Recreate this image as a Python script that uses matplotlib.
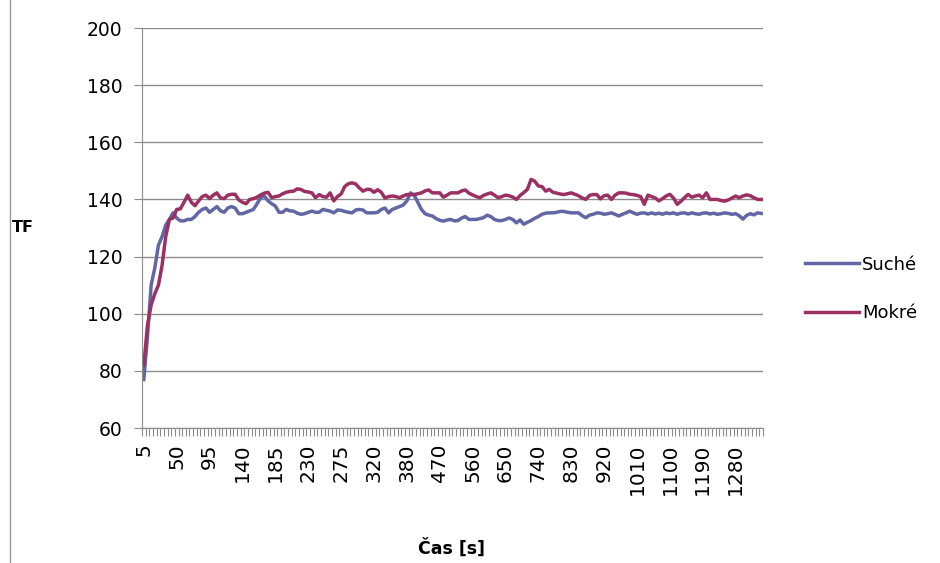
import matplotlib
matplotlib.use("Agg")
import matplotlib.pyplot as plt
from matplotlib.lines import Line2D
import numpy as np

# time categories [s]: 5 s step up to 350, then 10 s step
times = list(range(5, 355, 5)) + list(range(360, 1360, 10))

suche = [
    77, 92, 110, 116, 124, 127, 131, 133, 135.3, 133.5,
    132.5, 132.5, 133, 133, 134, 135.5, 136.5, 137, 135.5, 136.5,
    137.5, 136, 135.5, 137, 137.5, 137, 135, 135, 135.5, 136,
    136.5, 138.5, 140.6, 141.2, 139.5, 138.5, 137.7, 135.5, 135.5, 136.5,
    136, 135.9, 135.2, 134.8, 135, 135.5, 135.9, 135.5, 135.5, 136.5,
    136.2, 135.9, 135.3, 136.3, 136.2, 135.8, 135.5, 135.3, 136.3, 136.5,
    136.3, 135.3, 135.3, 135.3, 135.5, 136.5, 137, 135.3, 136.5, 137,
    137.5, 138, 139.5, 142.3, 141.5, 139, 136.5, 135, 134.5, 134.2,
    133.3, 132.7, 132.4, 132.8, 133, 132.5, 132.6, 133.5, 134, 133,
    133, 133, 133.3, 133.6, 134.5, 134, 133, 132.6, 132.6, 133,
    133.5, 133, 131.8, 132.8, 131.3, 132, 132.6, 133.4, 134, 134.8,
    135.2, 135.3, 135.3, 135.5, 135.8, 135.8, 135.5, 135.3, 135.3, 135.3,
    134.3, 133.6, 134.5, 134.8, 135.3, 135.2, 134.8, 135, 135.3, 134.8,
    134.2, 134.8, 135.3, 135.9, 135.3, 134.8, 135.2, 135.3, 134.9, 135.3,
    134.9, 135.2, 134.8, 135.3, 135, 135.3, 134.8, 135.2, 135.3, 134.9,
    135.3, 135, 134.8, 135.2, 135.3, 134.9, 135.2, 134.8, 135, 135.3,
    135.1, 134.8, 135, 134.3, 133.1, 134.4, 135, 134.6, 135.3, 135.1,
]

mokre = [
    82, 96, 103, 107, 110, 117, 127, 133, 133.5, 136.5,
    136.7, 139, 141.5, 139, 137.8, 139.5, 141, 141.5, 140.3, 141.5,
    142.3, 140.5, 140.3, 141.5, 141.8, 141.8, 139.8, 139, 138.5, 140,
    140.3, 140.8, 141.6, 142.2, 142.5, 140.6, 141, 141.2, 142, 142.5,
    142.8, 142.9, 143.7, 143.5, 142.8, 142.6, 142.3, 140.6, 141.7, 141,
    140.8, 142.3, 139.5, 141, 141.9, 144.5, 145.5, 145.8, 145.4, 144,
    142.9, 143.5, 143.5, 142.5, 143.4, 142.5, 140.5, 141, 141.2, 141,
    140.6, 141.2, 141.7, 141.7, 141.7, 142, 142.3, 143, 143.3, 142.3,
    142.3, 142.3, 140.8, 141.5, 142.3, 142.3, 142.3, 143, 143.3, 142.2,
    141.6, 141, 140.6, 141.4, 141.9, 142.3, 141.5, 140.6, 141, 141.5,
    141.3, 140.8, 140, 141.4, 142.4, 143.5, 147, 146.4, 144.7, 144.5,
    142.9, 143.5, 142.5, 142.2, 141.9, 141.7, 142, 142.3, 141.8, 141.3,
    140.5, 140, 141.4, 141.7, 141.7, 140.2, 141.3, 141.5, 140, 141.5,
    142.3, 142.3, 142.2, 141.8, 141.7, 141.4, 141, 138.3, 141.5, 141,
    140.5, 139.5, 140.3, 141.2, 141.8, 140.5, 138.3, 139.3, 140.6, 141.75,
    140.8, 141.2, 141.5, 140.6, 142.3, 140, 140, 140, 139.6, 139.4,
    139.8, 140.5, 141.2, 140.6, 141.2, 141.6, 141.3, 140.6, 140, 140,
]

series_names = ["Suché", "Mokré"]
y_ticks = [60, 80, 100, 120, 140, 160, 180, 200]

W, H = 940, 563
fig = plt.figure(figsize=(W / 100, H / 100), dpi=100)
ax = fig.add_axes([142 / W, 1 - 428 / H, (763 - 142) / W, (428 - 28) / H])

x = np.arange(len(times))
ax.plot(x, suche, color="#6266A4", lw=2.5, label=series_names[0], solid_joinstyle="round")
ax.plot(x, mokre, color="#9B3063", lw=2.5, label=series_names[1], solid_joinstyle="round")

ax.set_xlim(-0.5, len(times) - 0.5)
ax.set_ylim(60, 200)
ax.set_yticks(y_ticks)
ax.yaxis.grid(True, color="#8c8c8c", lw=1)
ax.set_axisbelow(True)

# labels on every 9th category, tick marks between categories
lab_idx = x[::9]
ax.set_xticks(lab_idx)
ax.set_xticklabels([str(times[i]) for i in lab_idx], rotation=90, fontsize=14.5)
ax.set_xticks(np.arange(-0.5, len(times), 1), minor=True)
ax.tick_params(axis="x", which="major", length=0, pad=11)
ax.tick_params(axis="x", which="minor", length=6, color="#8c8c8c", width=0.8)
ax.tick_params(axis="y", length=6, color="#8c8c8c", labelsize=13.5, pad=8)

for s in ["top", "right"]:
    ax.spines[s].set_visible(False)
for s in ["left", "bottom"]:
    ax.spines[s].set_color("#8c8c8c")

fig.text(12 / W, 1 - 228 / H, "TF", fontsize=11.5, fontweight="bold", va="center")
fig.text(452 / W, 1 - 548 / H, "Čas [s]", fontsize=12.5, fontweight="bold", ha="center", va="center")

fig.legend(loc="center left", bbox_to_anchor=(805 / W, 1 - 289 / H), frameon=False,
           fontsize=13, handlelength=3.0, handletextpad=0.15, labelspacing=1.7,
           borderpad=0, borderaxespad=0)

fig.add_artist(Line2D([10 / W, 10 / W], [0, 1], color="#9a9a9a", lw=1))

fig.savefig("out.png", dpi=100)
